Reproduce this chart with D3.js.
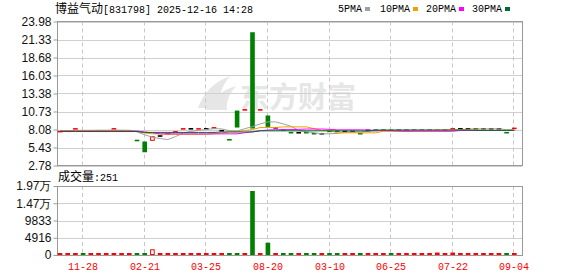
<!DOCTYPE html>
<html><head><meta charset="utf-8">
<script src="https://cdn.jsdelivr.net/npm/d3@7"></script>
<style>body{margin:0;background:#fff}svg{display:block}</style>
</head><body><svg id="c" width="578" height="276"></svg>
<script>
// ---- data ----
const title = "博益气动";
const titleCode = "[831798] 2025-12-16 14:28";
const openP = [7.76,7.85,8.16,7.86,7.85,7.85,7.85,8.16,7.85,7.85, 6.47,6.31,6.41,7.12,7.46,7.72,8.16,8.18,8.16,8.18,
  8.31,7.90,6.58,10.87,10.96,22.40,10.96,10.14,8.33,8.01, 7.62,7.60,7.62,7.47,7.45,7.81,7.85,7.80,7.80,7.47,
  7.96,7.96,7.96,7.97,7.96,7.96,7.96,7.96,7.96,7.95, 7.96,8.16,8.18,8.18,8.18,8.18,8.18,8.18,7.62,8.23];
const closeP = [7.78,7.85,8.18,7.85,7.85,7.85,7.85,8.18,7.85,7.85, 6.45,4.73,7.09,7.12,7.48,7.74,8.18,8.18,8.18,8.18,
  8.33,7.90,6.56,8.37,10.98,8.22,10.98,8.47,8.33,8.00, 7.60,7.60,7.60,7.45,7.45,7.80,7.83,7.80,7.80,7.45,
  7.96,7.96,7.96,7.96,7.96,7.96,7.96,7.96,7.96,7.97, 7.96,8.18,8.18,8.18,8.18,8.18,8.18,8.18,7.60,8.25];
const volume = [180,150,220,160,150,150,150,230,150,160, 240,300,1625,200,180,220,250,200,230,200,
  250,180,260,300,240,18240,250,3505,200,260, 240,200,220,230,200,240,220,180,180,220,
  180,180,180,220,180,180,180,180,180,700, 180,700,220,220,220,200,200,220,240,251];
const ma5 = [7.82,7.82,7.96,7.96,7.96,7.98,7.98,8.00,7.98,7.97, 7.74,7.30,6.95,6.75,6.60,7.04,7.55,7.80,7.95,8.10,
  8.20,8.17,7.90,7.85,8.20,8.50,8.90,9.20,9.20,8.90, 8.55,7.95,7.75,7.60,7.45,7.45,7.50,7.65,7.70,7.70,
  7.80,7.85,7.90,7.95,7.96,7.96,7.96,7.96,7.96,7.96, 7.97,8.02,8.07,8.12,8.18,8.18,8.18,8.18,8.06,8.08];
const ma10 = [7.93,7.93,7.93,7.93,7.93,7.93,7.93,7.93,7.93,7.93, 7.80,7.55,7.45,7.42,7.38,7.36,7.36,7.36,7.36,7.36,
  7.45,7.55,7.74,7.74,7.93,8.07,8.37,8.37,8.37,8.47, 8.47,8.47,8.47,8.20,7.93,7.93,7.59,7.59,7.59,7.59,
  7.59,7.59,7.82,7.82,7.82,7.82,7.93,7.93,7.93,7.96, 7.98,8.00,8.00,8.00,8.00,7.98,7.96,7.96,7.96,7.96];
const ma20 = [7.85,7.85,7.85,7.85,7.85,7.85,7.85,7.85,7.85,7.85, 7.85,7.72,7.60,7.44,7.44,7.44,7.44,7.44,7.44,7.44,
  7.44,7.44,7.44,7.44,7.60,7.75,7.90,8.00,8.05,8.07, 8.07,8.10,8.15,8.15,8.15,8.10,8.03,8.03,8.03,8.03,
  8.00,7.93,7.93,7.90,7.86,7.82,7.82,7.82,7.82,7.82, 7.82,7.82,7.93,7.93,7.93,7.93,7.93,7.93,7.93,7.93];
const ma30 = [7.78,7.78,7.78,7.78,7.78,7.78,7.78,7.78,7.78,7.78, 7.78,7.65,7.65,7.65,7.65,7.65,7.65,7.65,7.65,7.65,
  7.65,7.72,7.72,7.72,7.72,7.72,7.88,7.88,7.88,7.88, 7.88,7.88,7.88,7.88,7.88,7.88,7.86,7.86,7.86,7.86,
  7.86,8.00,8.00,8.00,8.00,8.00,8.00,8.00,8.00,8.00, 8.00,8.00,8.00,8.00,7.95,7.95,7.95,7.95,7.95,7.95];
const priceTicks = [2.78,5.43,8.08,10.73,13.38,16.03,18.68,21.33,23.98];
const volTicks = [0,4916,9833,14750,19666];
const volTickLabels = ["0","4916","9833","1.47万","1.97万"];
const dateTickIdx = [3,11,19,27,35,43,51,59];
const dateTickLabels = ["11-28","02-21","03-25","08-20","03-10","06-25","07-22","09-04"];
const legendNames = ["5PMA","10PMA","20PMA","30PMA"];
const legendColors = ["#a0a0a0","#f0a000","#ff00ff","#006a35"];
const volLabel = "成交量";
const lastVolume = 251;

// ---- layout ----
const svg = d3.select("#c");
const L = 57, R = 522, PT = 21.5, PB = 165.5, VT = 186, VB = 255;
const RED = "#ff0000", GREEN = "#008000";
const MONO = "'Liberation Mono','DejaVu Sans Mono',monospace";
const CJK = "'Noto Sans CJK SC','Noto Sans',sans-serif";
const NUM = "'Liberation Sans',Arial,sans-serif";

const idx = d3.range(openP.length);
const x = d3.scaleBand().domain(idx).range([56.15, 518.15]).paddingInner(0.4).paddingOuter(0.2);
const cx = i => x(i) + x.bandwidth() / 2;
const y = d3.scaleLinear().domain([2.78, 23.98]).range([PB, PT]);
const vy = d3.scaleLinear().domain([0, 19666]).range([VB, VT]);

svg.append("rect").attr("width", 578).attr("height", 276).attr("fill", "#fff");

// watermark
const wm = svg.append("g").attr("fill", "#e6e6e6");
wm.append("path").attr("d", "M198,108 C204,92 214,82 230,76 C222,86 218,96 219,108 Z");
wm.append("path").attr("d", "M206,110 C212,98 222,90 236,86 C229,94 226,102 227,110 Z");
wm.append("text").attr("x", 240).attr("y", 108).attr("font-family", CJK).attr("font-weight", "bold")
  .attr("font-size", 29).text("东方财富");

// grids
function hGrid(scale, ticks, x1, x2) {
  svg.append("g").selectAll("line").data(ticks).join("line")
    .attr("x1", x1).attr("x2", x2)
    .attr("y1", d => Math.round(scale(d)) + 0.5).attr("y2", d => Math.round(scale(d)) + 0.5)
    .attr("stroke", "#d0d0d0");
}
hGrid(y, priceTicks, L, R);
hGrid(vy, volTicks, L, R);
const vgrid = svg.append("g");
dateTickIdx.forEach(i => {
  const gx = Math.round(cx(i)) - 0.5;
  vgrid.append("line").attr("x1", gx).attr("x2", gx).attr("y1", PT).attr("y2", PB)
    .attr("stroke", "#c8c8c8").attr("stroke-dasharray", "4,3");
  vgrid.append("line").attr("x1", gx).attr("x2", gx).attr("y1", VT).attr("y2", VB)
    .attr("stroke", "#c8c8c8").attr("stroke-dasharray", "4,3");
});

// frames
svg.append("rect").attr("x", L + 0.5).attr("y", PT).attr("width", R - L).attr("height", PB - PT)
  .attr("fill", "none").attr("stroke", "#999");
svg.append("rect").attr("x", L + 0.5).attr("y", VT + 0.5).attr("width", R - L).attr("height", VB - VT)
  .attr("fill", "none").attr("stroke", "#999");

// y axes
const yAx = d3.axisLeft(y).tickValues(priceTicks).tickFormat(d3.format(".2f")).tickSize(4).tickPadding(2);
const gY = svg.append("g").attr("transform", `translate(${L + 0.5},0)`).call(yAx);
const vAx = d3.axisLeft(vy).tickValues(volTicks).tickFormat((d, i) => volTickLabels[i]).tickSize(4).tickPadding(2);
const gV = svg.append("g").attr("transform", `translate(${L + 0.5},0)`).call(vAx);
[gY, gV].forEach(g => {
  g.select(".domain").remove();
  g.selectAll("line").attr("stroke", "#999");
  g.selectAll("text").attr("font-family", NUM).attr("font-size", 12).attr("fill", "#111");
});

// candles
const cg = svg.append("g");
idx.forEach(i => {
  const o = openP[i], c = closeP[i];
  const top = y(Math.max(o, c)), bot = y(Math.min(o, c));
  let h = bot - top;
  const bx = x(i), bw = x.bandwidth();
  const col = c > o ? RED : (c < o ? GREEN : "#000");
  if (h < 1.6) {
    const mid = (top + bot) / 2;
    cg.append("rect").attr("x", bx).attr("y", mid - 0.8).attr("width", bw).attr("height", 1.6).attr("fill", col);
  } else if (c > o) {
    cg.append("rect").attr("x", bx + 0.5).attr("y", top + 0.5).attr("width", bw - 1).attr("height", h - 1)
      .attr("fill", "#fff").attr("stroke", RED);
  } else {
    cg.append("rect").attr("x", bx).attr("y", top).attr("width", bw).attr("height", h).attr("fill", col);
  }
});

// moving averages
const line = d3.line().x((d, i) => cx(i)).y(d => y(d));
[ma5, ma10, ma20, ma30].forEach((arr, k) => {
  svg.append("path").datum(arr).attr("d", line).attr("fill", "none")
    .attr("stroke", legendColors[k]).attr("stroke-width", 1);
});

// volume bars
const vg = svg.append("g");
idx.forEach(i => {
  const up = closeP[i] >= openP[i];
  const col = up ? RED : GREEN;
  const top = vy(volume[i]);
  let h = Math.max(VB - top, 2);
  const bx = x(i), bw = x.bandwidth();
  if (up && h > 4) {
    vg.append("rect").attr("x", bx + 0.5).attr("y", VB - h + 0.5).attr("width", bw - 1).attr("height", h - 1)
      .attr("fill", "#fff").attr("stroke", col);
  } else {
    vg.append("rect").attr("x", bx).attr("y", VB - h).attr("width", bw).attr("height", h).attr("fill", col);
  }
});

// x labels
svg.append("g").selectAll("text").data(dateTickIdx).join("text")
  .attr("x", d => Math.round(cx(d))).attr("y", 270).attr("text-anchor", "middle")
  .attr("font-family", MONO).attr("font-size", 10).attr("fill", RED)
  .text((d, i) => dateTickLabels[i]);

// title
const t = svg.append("text").attr("x", 55).attr("y", 13).attr("fill", "#000");
t.append("tspan").attr("font-family", CJK).attr("font-size", 12).text(title);
t.append("tspan").attr("font-family", MONO).attr("font-size", 10).text(titleCode);

// legend
const legX = [338, 380, 426, 472];
legendNames.forEach((n, k) => {
  const w = n.length * 6;
  svg.append("text").attr("x", legX[k]).attr("y", 12).attr("font-family", MONO).attr("font-size", 10)
    .attr("fill", "#000").text(n);
  svg.append("rect").attr("x", legX[k] + w + 3).attr("y", 7).attr("width", 5).attr("height", 4)
    .attr("fill", legendColors[k]);
});

// volume label
const vt = svg.append("text").attr("x", 58).attr("y", 181).attr("fill", "#000");
vt.append("tspan").attr("font-family", CJK).attr("font-size", 12).text(volLabel);
vt.append("tspan").attr("font-family", MONO).attr("font-size", 10).text(":" + lastVolume);
</script></body></html>
